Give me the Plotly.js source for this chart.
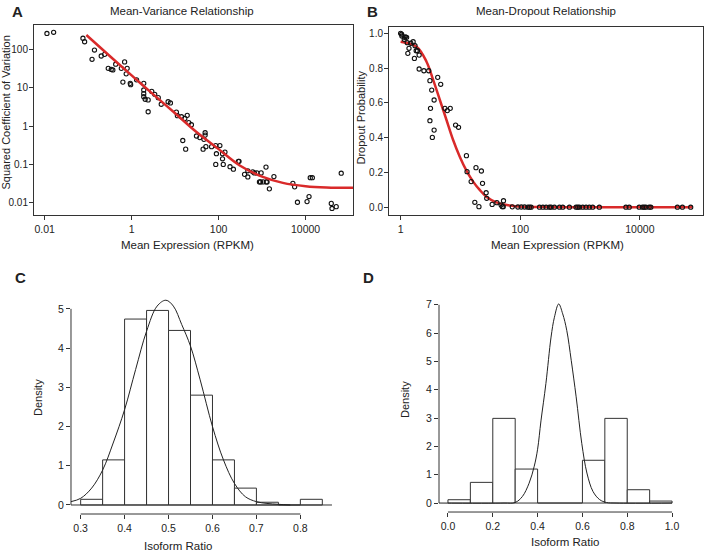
<!DOCTYPE html>
<html>
<head>
<meta charset="utf-8">
<script src="https://cdn.plot.ly/plotly-3.0.1.min.js"></script>
<style>html,body{margin:0;padding:0;background:#fff}#chart{width:705px;height:553px}</style>
</head>
<body>
<div id="chart"></div>
<script>
// ---------- Panel A: Mean-Variance ----------
const aMean = [0.0113,0.0161,0.076,0.083,0.14,0.123,0.20,0.24,0.29,0.34,0.37,0.43,0.58,0.63,0.69,0.75,0.79,0.93,0.95,1.3,1.9,1.9,1.9,1.9,2.05,2.4,2.4,2.9,3.4,4.1,4.8,6.9,7.8,10.7,11.3,14,16.7,19,20.6,23.7,15,17.5,31,37,49,49,46,44,51,69,86,89,86,107,123,123,140,128,183,219,285,295,395,470,470,610,665,760,950,870,920,1050,1250,1300,1230,1470,1870,5100,5600,6500,10800,12000,12800,14300,39000,40500,50600,66000];
const aCV2  = [260,278,195,158,96,55,67,74,32,30,29,41,32,14,47,23,32,13,12,16,13,8.7,7,5.8,5,4.8,2.36,8,6.7,5.5,3.7,4.3,4.0,2.3,1.86,1.75,1.58,1.9,1.23,1.08,0.42,0.25,0.55,0.50,0.67,0.58,0.45,0.25,0.29,0.29,0.31,0.19,0.10,0.31,0.19,0.14,0.21,0.10,0.087,0.075,0.12,0.12,0.055,0.047,0.068,0.064,0.060,0.060,0.060,0.035,0.035,0.035,0.035,0.035,0.085,0.023,0.048,0.032,0.026,0.0103,0.0107,0.0145,0.045,0.045,0.0096,0.0071,0.0079,0.059];
const aFitX = [0.091,0.3,1,3,10,30,100,300,1000,3000,10000,30000,123000];
const aFitY = [236,70,21,7,2.15,0.72,0.25,0.095,0.048,0.033,0.027,0.025,0.0245];
const aXTicks = [0.01,1,100,10000];
const aXTickText = ['0.01','1','100','10000'];
const aYTicks = [0.01,0.1,1,10,100];
const aYTickText = ['0.01','0.1','1','10','100'];

// ---------- Panel B: Mean-Dropout ----------
const bMean = [1.0,1.04,1.05,1.15,1.2,1.26,1.15,1.29,1.32,1.38,1.48,1.62,1.74,1.70,1.82,1.91,2.04,2.04,2.45,2.95,3.09,4.17,4.68,3.31,3.63,3.16,3.09,3.63,3.39,5.5,6.03,6.76,8.3,9.3,12.6,12.9,15.1,18.2,22.4,23.4,26.9,27.5,17.4,20.4,33.9,40.7,47.9,52.5,50.1,52,
  73.6,91.4,104,118,134,143,152,210,239,271,308,328,373,453,514,664,858,915,975,1108,1259,1431,1626,2101,5843,6637,9750,11080,11800,12590,14300,15250,42440,51400,70800];
const bDrop = [1.0,0.995,0.985,0.977,0.98,0.977,0.966,0.946,0.885,0.914,0.943,0.952,0.929,0.856,0.90,0.90,0.875,0.795,0.785,0.785,0.728,0.747,0.707,0.674,0.617,0.569,0.498,0.444,0.402,0.569,0.556,0.569,0.473,0.46,0.297,0.205,0.148,0.228,0.209,0.138,0.084,0.052,0.029,0.004,0.017,0.027,0.013,0.038,0.004,0.004,
  0.003,0.002,0.002,0.002,0.001,0.001,0.001,0.001,0.001,0.001,0.001,0.001,0.001,0.001,0.001,0.001,0.001,0.001,0.001,0.001,0.001,0.001,0.001,0.001,0.001,0.001,0.001,0.001,0.001,0.001,0.001,0.001,0.001,0.001,0.001];
const bFitX = [1,1.85,2.71,3.5,4.53,5.85,7.55,9.75,12.6,16.3,21,27.1,39.8,66.5,110,308,75500];
const bFitY = [0.952,0.923,0.837,0.732,0.617,0.502,0.387,0.291,0.211,0.148,0.10,0.061,0.029,0.011,0.004,0.001,0.0];
const bXTicks = [1,100,10000];
const bXTickText = ['1','100','10000'];
const bYTicks = [0,0.2,0.4,0.6,0.8,1.0];

// ---------- Panel C: histogram ----------
const cBinEdges = [0.30,0.35,0.40,0.45,0.50,0.55,0.60,0.65,0.70,0.75,0.80,0.85];
const cHeights  = [0.145,1.15,4.74,4.96,4.45,2.80,1.15,0.43,0.07,0,0.145];
const cDensX = [0.278,0.30,0.325,0.35,0.374,0.40,0.425,0.45,0.474,0.494,0.511,0.53,0.55,0.572,0.60,0.625,0.65,0.675,0.70,0.724,0.75,0.777];
const cDensY = [0.085,0.17,0.43,0.89,1.58,2.43,3.45,4.43,5.07,5.22,5.07,4.6,4.05,3.19,2.0,1.15,0.55,0.21,0.085,0.04,0.017,0.0];
const cXTicks = [0.3,0.4,0.5,0.6,0.7,0.8];
const cYTicks = [0,1,2,3,4,5];

// ---------- Panel D: histogram ----------
const dBinEdges = [0.0,0.1,0.2,0.3,0.4,0.5,0.6,0.7,0.8,0.9,1.0];
const dHeights  = [0.117,0.73,2.99,1.20,0,0,1.51,2.99,0.47,0.07];
const dDensX = [-0.04,0.25,0.30,0.332,0.362,0.385,0.40,0.415,0.437,0.46,0.475,0.494,0.512,0.53,0.55,0.572,0.597,0.62,0.647,0.677,0.707,0.75,1.0];
const dDensY = [0,0,0.02,0.23,0.70,1.3,1.9,2.9,4.22,5.86,6.56,7.03,6.68,6.1,5.04,3.75,2.11,1.06,0.41,0.12,0.02,0,0];
const dXTicks = [0,0.2,0.4,0.6,0.8,1.0];
const dYTicks = [0,1,2,3,4,5,6,7];

// ---------- build ----------
const FONT = 'Liberation Sans, Arial, Helvetica, sans-serif';
const INK = '#222';
const RED = '#d92a2a';

function centers(edges){ const c=[]; for(let i=0;i<edges.length-1;i++) c.push((edges[i]+edges[i+1])/2); return c; }
function widths(edges){ const w=[]; for(let i=0;i<edges.length-1;i++) w.push(edges[i+1]-edges[i]); return w; }

const cXR = [0.278,0.872], dXR = [-0.04,1.04];
const ptMarker = {symbol:'circle-open', size:4.2, color:'#111', line:{width:1.1, color:'#111'}};

const traces = [
  {x:aMean, y:aCV2, type:'scatter', mode:'markers', xaxis:'x', yaxis:'y', marker:ptMarker},
  {x:aFitX, y:aFitY, type:'scatter', mode:'lines', xaxis:'x', yaxis:'y',
   line:{color:RED, width:2.5, shape:'spline'}},
  {x:bFitX, y:bFitY, type:'scatter', mode:'lines', xaxis:'x2', yaxis:'y2',
   line:{color:RED, width:2.5, shape:'spline'}},
  {x:bMean, y:bDrop, type:'scatter', mode:'markers', xaxis:'x2', yaxis:'y2', marker:ptMarker},
  {x:centers(cBinEdges), y:cHeights, width:widths(cBinEdges), type:'bar', xaxis:'x3', yaxis:'y3',
   marker:{color:'#fff', line:{color:'#333', width:1}}},
  {x:cXR, y:[0,0], type:'scatter', mode:'lines', xaxis:'x3', yaxis:'y3', line:{color:'#333', width:1}},
  {x:cDensX, y:cDensY, type:'scatter', mode:'lines', xaxis:'x3', yaxis:'y3',
   line:{color:INK, width:1, shape:'spline'}},
  {x:centers(dBinEdges), y:dHeights, width:widths(dBinEdges), type:'bar', xaxis:'x4', yaxis:'y4',
   marker:{color:'#fff', line:{color:'#333', width:1}}},
  {x:dDensX, y:dDensY, type:'scatter', mode:'lines', xaxis:'x4', yaxis:'y4',
   line:{color:INK, width:1, shape:'spline'}}
];

const xTickFont = {family:FONT, size:10.5, color:INK};
const yTickFont = {family:FONT, size:10, color:INK};
function boxAxis(extra){
  return Object.assign({showline:true, mirror:true, linecolor:'#333', linewidth:1, ticks:'outside', ticklen:4,
    tickcolor:'#333', tickwidth:1, showgrid:false, zeroline:false, fixedrange:true}, extra);
}
function openAxis(extra){
  return Object.assign({showline:false, ticks:'outside', ticklen:4, tickcolor:'#333', tickwidth:1,
    showgrid:false, zeroline:false, fixedrange:true}, extra);
}

const layout = {
  width:705, height:553, margin:{l:0,r:0,t:0,b:0}, showlegend:false,
  paper_bgcolor:'#fff', plot_bgcolor:'#fff', font:{family:FONT, color:INK}, barmode:'overlay',
  xaxis: boxAxis({type:'log', domain:[0.0482,0.5007], range:[-2.245,5.09], tickvals:aXTicks, ticktext:aXTickText, anchor:'y', tickfont:xTickFont}),
  yaxis: boxAxis({type:'log', domain:[0.6112,0.9548], range:[-2.32,2.635], tickvals:aYTicks, ticktext:aYTickText, anchor:'x', tickfont:yTickFont, ticklabelstandoff:-1}),
  xaxis2: boxAxis({type:'log', domain:[0.5518,0.9972], range:[-0.194,5.056], tickvals:bXTicks, ticktext:bXTickText, anchor:'y2', tickfont:xTickFont}),
  yaxis2: boxAxis({domain:[0.6112,0.9517], range:[-0.044,1.038], tickvals:bYTicks, tickformat:'.1f', anchor:'x2', tickfont:yTickFont, ticklabelstandoff:-1}),
  xaxis3: openAxis({domain:[0.1007,0.4709], range:cXR, tickvals:cXTicks, tickformat:'.1f', anchor:'y3', tickfont:xTickFont}),
  yaxis3: openAxis({domain:[0.0705,0.4720], range:[-0.23,5.43], tickvals:cYTicks, anchor:'x3', tickfont:xTickFont}),
  xaxis4: openAxis({domain:[0.6227,0.9660], range:dXR, tickvals:dXTicks, tickformat:'.1f', anchor:'y4', tickfont:xTickFont}),
  yaxis4: openAxis({domain:[0.0741,0.4647], range:[-0.317,7.31], tickvals:dYTicks, anchor:'x4', tickfont:xTickFont}),
  shapes: [
    {type:'line', xref:'x3', yref:'y3 domain', x0:cXTicks[0], x1:cXTicks[cXTicks.length-1], y0:0, y1:0, line:{color:'#333', width:1}},
    {type:'line', xref:'x3 domain', yref:'y3', x0:0, x1:0, y0:cYTicks[0], y1:cYTicks[cYTicks.length-1], line:{color:'#333', width:1}},
    {type:'line', xref:'x4', yref:'y4 domain', x0:dXTicks[0], x1:dXTicks[dXTicks.length-1], y0:0, y1:0, line:{color:'#333', width:1}},
    {type:'line', xref:'x4 domain', yref:'y4', x0:0, x1:0, y0:dYTicks[0], y1:dYTicks[dYTicks.length-1], line:{color:'#333', width:1}}
  ],
  annotations: []
};

function txt(text, xpx, ypx, size, opts){
  return Object.assign({text:text, xref:'paper', yref:'paper', x:xpx/705, y:1-ypx/553, showarrow:false,
    xanchor:'center', yanchor:'middle', font:{family:FONT, size:size, color:INK}}, opts||{});
}
layout.annotations.push(
  txt('<b>A</b>', 17, 11, 15),
  txt('<b>B</b>', 372, 11, 15),
  txt('<b>C</b>', 20, 277, 15),
  txt('<b>D</b>', 368, 277, 15),
  txt('Mean-Variance Relationship', 182, 11, 11.5),
  txt('Mean-Dropout Relationship', 546, 11, 11.5),
  txt('Mean Expression (RPKM)', 187, 245, 11.5),
  txt('Mean Expression (RPKM)', 557, 245, 11.5),
  txt('Squared Coefficient of Variation', 5.5, 113, 11, {textangle:-90}),
  txt('Dropout Probability', 360.5, 118, 11, {textangle:-90}),
  txt('Isoform Ratio', 178, 546, 11.5),
  txt('Isoform Ratio', 565, 542, 11.5),
  txt('Density', 38, 398, 11, {textangle:-90}),
  txt('Density', 405, 400, 11, {textangle:-90})
);

Plotly.newPlot('chart', traces, layout, {staticPlot:true, displayModeBar:false});
</script>
</body>
</html>
